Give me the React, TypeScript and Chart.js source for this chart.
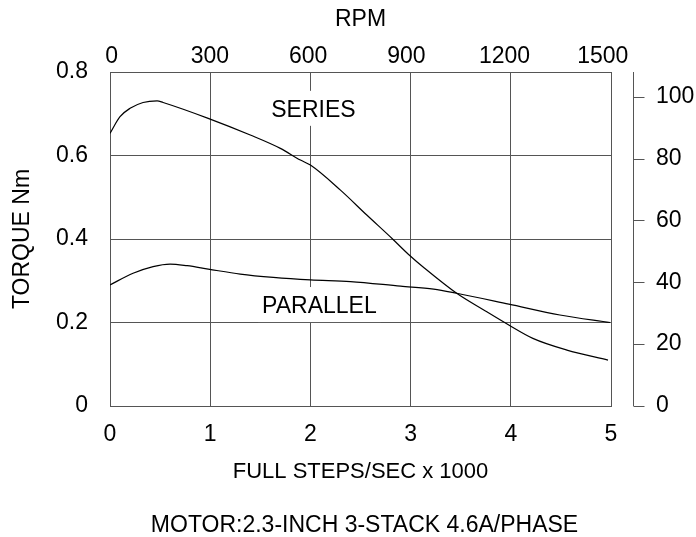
import React, { useEffect, useRef } from 'react';
import { Chart, registerables } from 'chart.js';

Chart.register(...registerables);

// ---- data ----
const stepTicks = [0, 1, 2, 3, 4, 5]; // full steps/sec x 1000
const rpmTicks = [0, 300, 600, 900, 1200, 1500];
const torqueTicks = [0, 0.2, 0.4, 0.6, 0.8];
const ozinTicks = [0, 20, 40, 60, 80, 100];

const seriesX = [0, 0.1, 0.2, 0.33, 0.47, 0.53, 0.98, 1.4, 1.7, 1.9, 2.0, 2.3, 2.56, 2.82, 2.98, 3.14, 3.46, 3.73, 3.98, 4.22, 4.56, 4.97];
const seriesY = [0.653, 0.693, 0.713, 0.727, 0.731, 0.727, 0.689, 0.649, 0.617, 0.589, 0.577, 0.517, 0.458, 0.4, 0.363, 0.33, 0.27, 0.23, 0.194, 0.162, 0.134, 0.11];

const parallelX = [0, 0.23, 0.43, 0.6, 0.77, 0.98, 1.3, 1.63, 2.0, 2.4, 2.9, 3.23, 3.46, 3.98, 4.49, 4.99];
const parallelY = [0.29, 0.318, 0.334, 0.34, 0.336, 0.328, 0.316, 0.308, 0.302, 0.298, 0.287, 0.28, 0.27, 0.244, 0.218, 0.2];

const curveNames = ['SERIES', 'PARALLEL'];
const curveLabelX = [2.03, 2.09];
const curveLabelY = [0.707, 0.237];

const xTitle = 'FULL STEPS/SEC x 1000';
const caption = 'MOTOR:2.3-INCH 3-STACK 4.6A/PHASE';

const FONT = '"Liberation Sans", Arial, Helvetica, sans-serif';
const FS = 23;
const GRID = '#555555';

const extrasPlugin = {
  id: 'extras',
  beforeDatasetsDraw(chart: any) {
    const { ctx } = chart;
    const x = chart.scales.x;
    const y = chart.scales.y;
    ctx.save();
    ctx.font = `${FS}px ${FONT}`;
    ctx.textAlign = 'center';
    ctx.textBaseline = 'middle';
    curveNames.forEach((t, i) => {
      const px = x.getPixelForValue(curveLabelX[i]);
      const py = y.getPixelForValue(curveLabelY[i]);
      const w = ctx.measureText(t).width;
      ctx.fillStyle = '#ffffff';
      ctx.fillRect(px - w / 2 - 4, py - 20, w + 8, 35);
      ctx.fillStyle = '#000000';
      ctx.fillText(t, px, py);
    });
    ctx.restore();
  },
  afterDraw(chart: any) {
    const { ctx, chartArea } = chart;
    const y2 = chart.scales.y2;
    const ax = Math.round(chartArea.right + 22) + 0.5;
    ctx.save();
    ctx.strokeStyle = GRID;
    ctx.lineWidth = 1;
    ctx.beginPath();
    ctx.moveTo(ax, y2.top);
    ctx.lineTo(ax, y2.bottom);
    y2.ticks.forEach((t: any) => {
      const py = Math.round(y2.getPixelForValue(t.value)) + 0.5;
      ctx.moveTo(ax, py);
      ctx.lineTo(ax + 11, py);
    });
    ctx.stroke();
    ctx.fillStyle = '#000000';
    ctx.textAlign = 'center';
    ctx.textBaseline = 'middle';
    const cx = (chartArea.left + chartArea.right) / 2;
    ctx.font = `22px ${FONT}`;
    ctx.fillText(xTitle, cx, chartArea.bottom + 66);
    ctx.font = `${FS}px ${FONT}`;
    ctx.textBaseline = 'alphabetic';
    ctx.fillText(caption, cx + 4, 532);
    ctx.restore();
  },
};

export default function App() {
  const ref = useRef<HTMLCanvasElement | null>(null);
  useEffect(() => {
    if (!ref.current) return;
    Chart.defaults.font.family = FONT;
    Chart.defaults.font.size = FS;
    Chart.defaults.color = '#000000';
    const chart = new Chart(ref.current, {
      type: 'line',
      data: {
        datasets: [
          {
            label: 'SERIES',
            data: seriesX.map((v, i) => ({ x: v, y: seriesY[i] })),
            borderColor: '#000000',
            borderWidth: 1.2,
            pointRadius: 0,
            tension: 0.4,
            cubicInterpolationMode: 'monotone',
            fill: false,
          },
          {
            label: 'PARALLEL',
            data: parallelX.map((v, i) => ({ x: v, y: parallelY[i] })),
            borderColor: '#000000',
            borderWidth: 1.2,
            pointRadius: 0,
            tension: 0.4,
            cubicInterpolationMode: 'monotone',
            fill: false,
          },
        ],
      },
      options: {
        responsive: false,
        animation: false,
        devicePixelRatio: 1,
        layout: { padding: 0 },
        plugins: { legend: { display: false }, tooltip: { enabled: false }, title: { display: false } },
        scales: {
          x: {
            type: 'linear',
            position: 'bottom',
            min: 0,
            max: 5,
            afterBuildTicks: (s: any) => { s.ticks = stepTicks.map((v) => ({ value: v })); },
            afterFit: (s: any) => { s.height = 131; },
            ticks: { padding: 15, callback: (v: any) => String(v), font: { size: FS } },
            grid: { color: GRID, lineWidth: 1, drawTicks: false },
            border: { display: true, color: GRID },
          },
          x2: {
            type: 'linear',
            position: 'top',
            min: -5,
            max: 1525,
            afterBuildTicks: (s: any) => { s.ticks = rpmTicks.map((v) => ({ value: v })); },
            afterFit: (s: any) => { s.height = 72; },
            ticks: { padding: 2, callback: (v: any) => String(v), font: { size: FS } },
            grid: { display: false, drawTicks: false },
            border: { display: false },
            title: { display: true, text: 'RPM', font: { size: FS }, padding: { top: 6, bottom: 0 } },
          },
          y: {
            type: 'linear',
            position: 'left',
            min: 0,
            max: 0.8,
            afterBuildTicks: (s: any) => { s.ticks = torqueTicks.map((v) => ({ value: v })); },
            afterFit: (s: any) => { s.width = 110; },
            ticks: { padding: 22, callback: (v: any) => String(v), font: { size: FS } },
            grid: { color: GRID, lineWidth: 1, drawTicks: false },
            border: { display: true, color: GRID },
            title: { display: true, text: 'TORQUE Nm', font: { size: FS }, padding: { top: 9, bottom: 0 } },
          },
          y2: {
            type: 'linear',
            position: 'right',
            min: 0,
            max: 108,
            afterBuildTicks: (s: any) => { s.ticks = ozinTicks.map((v) => ({ value: v })); },
            afterFit: (s: any) => { s.width = 85; },
            ticks: { padding: 45, callback: (v: any) => String(v), font: { size: FS } },
            grid: { display: false, drawTicks: false },
            border: { display: false },
          },
        },
      },
      plugins: [extrasPlugin],
    } as any);
    return () => chart.destroy();
  }, []);
  return (
    <div style={{ position: 'absolute', left: 0, top: 0, width: 696, height: 537, background: '#ffffff' }}>
      <canvas ref={ref} width={696} height={537} />
    </div>
  );
}
